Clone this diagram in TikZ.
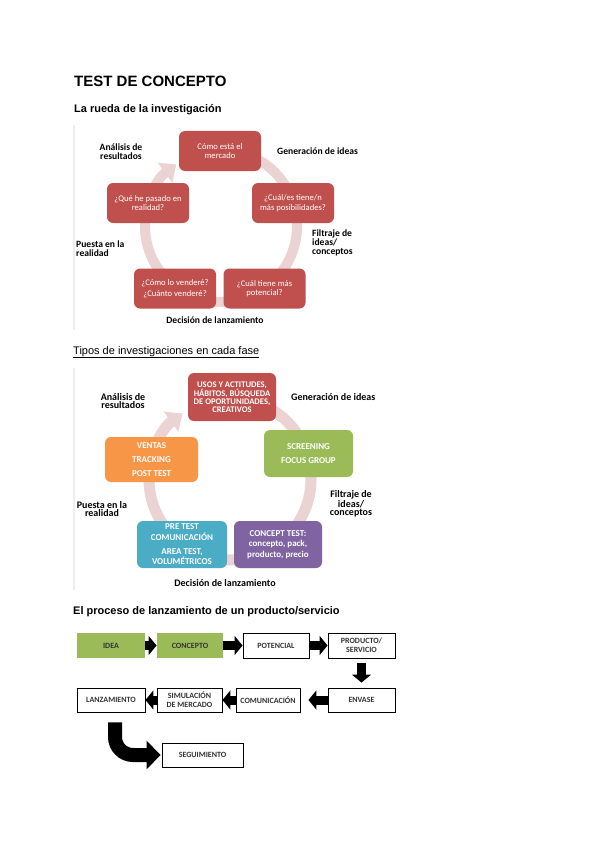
\documentclass[tikz,border=0pt]{standalone}
\usepackage{fontspec}
\setmainfont{Liberation Sans}
\newfontfamily\calibri{Carlito}
\usepackage{xcolor}
\usetikzlibrary{arrows.meta,positioning,calc}

\definecolor{offred}{HTML}{C0504D}
\definecolor{offgreen}{HTML}{9BBB59}
\definecolor{offorange}{HTML}{F79646}
\definecolor{offblue}{HTML}{4BACC6}
\definecolor{offpurple}{HTML}{8064A2}
\definecolor{ringpink}{HTML}{EBD3D3}

\begin{document}
\begin{tikzpicture}[x=1pt,y=-1pt,
  wheelbox/.style={fill=offred,rounded corners=6pt,align=center,text=white,font=\calibri\fontsize{8.6}{9.5}\selectfont,minimum width=82pt,minimum height=40pt,inner sep=1pt},
  typebox/.style={rounded corners=6pt,align=center,text=white,font=\calibri\bfseries\fontsize{9}{10.5}\selectfont,minimum width=89pt,minimum height=47pt,inner sep=1pt},
  phase/.style={font=\calibri\bfseries\fontsize{9.6}{8.7}\selectfont,inner sep=0pt},
  bigphase/.style={phase,font=\calibri\bfseries\fontsize{10}{8.7}\selectfont},
  ring/.style={draw=ringpink,line width=10pt,-{Triangle[width=24pt,length=14pt]}},
  stepbox/.style={draw=black,line width=0.9pt,align=center,font=\calibri\bfseries\fontsize{8}{9.2}\selectfont,text=black!80,minimum width=67pt,minimum height=25pt,inner sep=1pt},
  ideabox/.style={stepbox,draw=none,fill=offgreen},
  blockarrow/.style={-{Triangle[width=19pt,length=8pt]},line width=9pt,draw=black},
  bigarrow/.style={-{Triangle[width=28pt,length=14pt]},line width=14pt,draw=black,rounded corners=18pt}
]
\useasboundingbox[fill=white] (0,0) rectangle (600,848);

% titles
\node[anchor=base west,inner sep=0pt,font=\bfseries\fontsize{15}{15}\selectfont] (title) at (74,87) {TEST DE CONCEPTO};
\node[anchor=base west,inner sep=0pt,font=\bfseries\fontsize{11}{11}\selectfont] (rueda) at (74,113) {La rueda de la investigación};
\node[anchor=base west,inner sep=0pt,font=\fontsize{11}{11}\selectfont] (tipos) at (73,354) {\underline{Tipos de investigaciones en cada fase}};
\node[anchor=base west,inner sep=0pt,font=\bfseries\fontsize{11}{11}\selectfont] (proceso) at (73,614) {El proceso de lanzamiento de un producto/servicio};

% wheel 1
\draw[black!7,line width=2pt] (74,125) -- (74,330);
\coordinate (hub1) at (221,226);
\draw[ring] ($(hub1)+(-90:76)$) arc[start angle=-90,end angle=234,radius=76];
\node[wheelbox] (w1top) at (220,151) {Cómo está el\\mercado};
\node[wheelbox] (w1right) at (293,203) {¿Cuál/es tiene/n\\más posibilidades?};
\node[wheelbox] (w1left) at (148,203) {¿Qué he pasado en\\realidad?};
\node[wheelbox] (w1bl) at (175,288.5) {¿Cómo lo venderé?\\[1.5pt]¿Cuánto venderé?};
\node[wheelbox] (w1br) at (264.5,288.5) {¿Cuál tiene más\\potencial?};
\node[phase,align=center] (w1analisis) at (121,152) {Análisis de\\resultados};
\node[phase,anchor=west] (w1generacion) at (277,151) {Generación de ideas};
\node[phase,align=left,anchor=west] (w1filtraje) at (312,243) {Filtraje de\\ideas/\\conceptos};
\node[phase,align=left,anchor=west] (w1puesta) at (76,249) {Puesta en la\\realidad};
\node[phase] (w1decision) at (215,320) {Decisión de lanzamiento};

% wheel 2
\draw[black!7,line width=2pt] (74,368) -- (74,590);
\coordinate (hub2) at (230,479);
\draw[ring,line width=11pt] ($(hub2)+(-90:81)$) arc[start angle=-90,end angle=234,radius=81];
\node[typebox,fill=offred,minimum width=88pt,minimum height=48pt,font=\calibri\bfseries\fontsize{8.6}{8}\selectfont] (w2top) at (232,397) {USOS Y ACTITUDES,\\HÁBITOS, BÚSQUEDA\\DE OPORTUNIDADES,\\CREATIVOS};
\node[typebox,fill=offgreen] (w2right) at (308.5,453.5) {SCREENING\\[3.5pt]FOCUS GROUP};
\node[typebox,fill=offorange,minimum width=93pt,minimum height=45pt] (w2left) at (151.5,459.5) {VENTAS\\[3.5pt]TRACKING\\[3.5pt]POST TEST};
\node[typebox,fill=offblue,minimum width=90pt] (w2bl) at (182,544.5) {PRE TEST\\COMUNICACIÓN\\[3.5pt]AREA TEST,\\VOLUMÉTRICOS};
\node[typebox,fill=offpurple,minimum width=88pt,font=\calibri\bfseries\fontsize{9}{10.5}\selectfont] (w2br) at (278,544.5) {CONCEPT TEST:\\concepto, pack,\\producto, precio};
\node[bigphase,align=center] (w2analisis) at (123,401) {Análisis de\\resultados};
\node[bigphase,anchor=west] (w2generacion) at (291,397) {Generación de ideas};
\node[bigphase,align=center] (w2filtraje) at (351,504) {Filtraje de\\ideas/\\conceptos};
\node[bigphase,align=center] (w2puesta) at (102,509) {Puesta en la\\realidad};
\node[bigphase] (w2decision) at (225,583) {Decisión de lanzamiento};

% launch process
\node[ideabox,minimum width=68pt] (idea) at (111,645.5) {IDEA};
\node[ideabox,minimum width=66pt] (concepto) at (190,645.5) {CONCEPTO};
\node[stepbox,minimum width=66pt] (potencial) at (276,645.5) {POTENCIAL};
\node[stepbox] (producto) at (361.5,645.5) {PRODUCTO/\\SERVICIO};
\node[stepbox,minimum height=24pt] (envase) at (361.5,700) {ENVASE};
\node[stepbox,minimum width=64pt,minimum height=24pt] (comunicacion) at (268,700) {COMUNICACIÓN};
\node[stepbox,minimum width=65pt,minimum height=24pt] (simulacion) at (189.5,700) {SIMULACIÓN\\DE MERCADO};
\node[stepbox,minimum width=68pt,minimum height=24pt] (lanzamiento) at (111,700) {LANZAMIENTO};
\node[stepbox,minimum width=81pt,minimum height=24pt] (seguimiento) at (202.5,755) {SEGUIMIENTO};

\draw[blockarrow] (idea) -- (concepto);
\draw[blockarrow] (concepto) -- (potencial);
\draw[blockarrow] (potencial) -- (producto);
\draw[blockarrow,shorten <=5pt,shorten >=5pt] (producto) -- (envase);
\draw[blockarrow,shorten >=8pt] (envase) -- (comunicacion);
\draw[blockarrow] (comunicacion) -- (simulacion);
\draw[blockarrow] (simulacion) -- (lanzamiento);
\draw[bigarrow,shorten >=1pt] ($(lanzamiento.south)+(4,10)$) |- (seguimiento.west);
\end{tikzpicture}
\end{document}
